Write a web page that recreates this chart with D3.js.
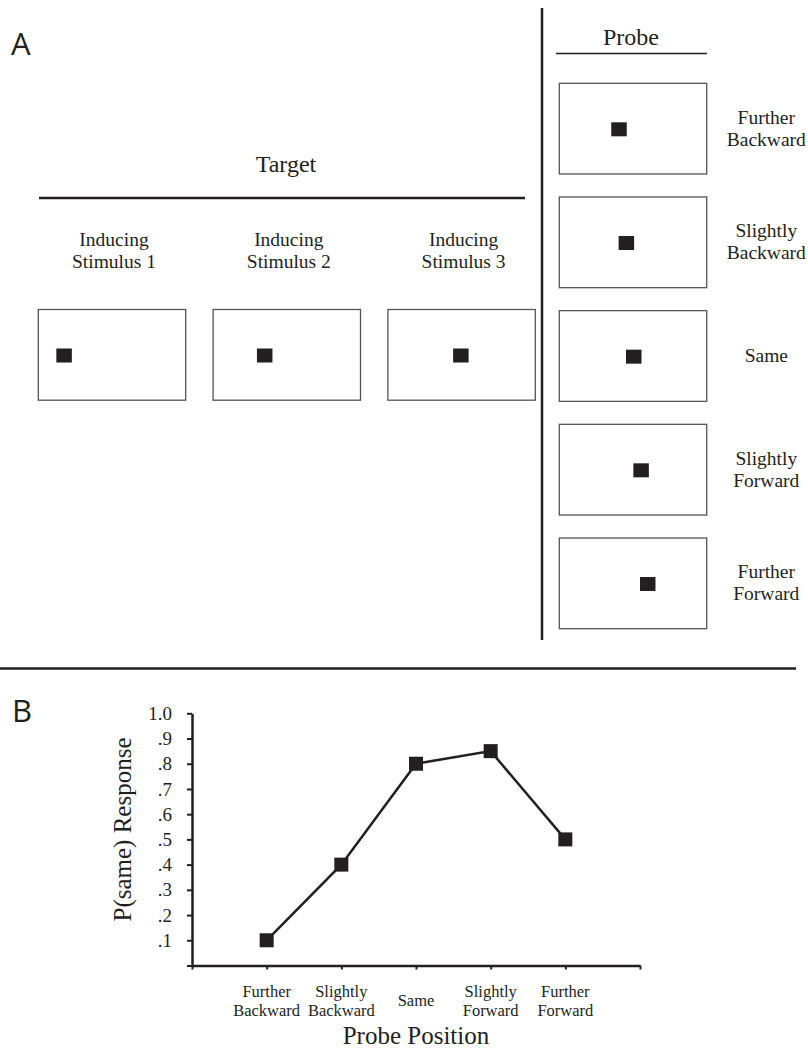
<!DOCTYPE html>
<html>
<head>
<meta charset="utf-8">
<script src="https://cdn.jsdelivr.net/npm/d3@7"></script>
<style>
  body { margin: 0; background: #fff; }
  svg { display: block; }
  text { fill: #231f20; font-family: "Liberation Serif", "Times New Roman", serif; }
  .panel { font-family: "Open Sans", sans-serif; }
</style>
</head>
<body>
<div id="chart"></div>
<script>
// target displays (inducing stimuli) and where the square sits, % of display width
var targetNames = ["Inducing Stimulus 1", "Inducing Stimulus 2", "Inducing Stimulus 3"];
var targetPos = [17.5, 35, 49.5];

// probe displays
var probeNames = ["Further Backward", "Slightly Backward", "Same", "Slightly Forward", "Further Forward"];
var probePos = [40.5, 45.5, 50.5, 55.5, 60];

// panel B: probability of a "same" response per probe position
var pSame = [0.10, 0.40, 0.80, 0.85, 0.50];
var yTicks = [0, 0.1, 0.2, 0.3, 0.4, 0.5, 0.6, 0.7, 0.8, 0.9, 1.0];
var yTickLabels = ["", ".1", ".2", ".3", ".4", ".5", ".6", ".7", ".8", ".9", "1.0"];

var ink = "#231f20";
var W = 808, H = 1055;

var svg = d3.select("#chart").append("svg")
    .attr("width", W)
    .attr("height", H);

// ---------- panel A ----------
svg.append("text").attr("class", "panel")
    .attr("x", 11).attr("y", 55)
    .style("font-size", "31px")
    .text("A");

// divider between target and probe
svg.append("line")
    .attr("x1", 542).attr("x2", 542).attr("y1", 8).attr("y2", 640)
    .style("stroke", ink).style("stroke-width", 2.5);

var boxW = 147.4, boxH = 90.7, sqW = 15.5, sqH = 14;
var inBox = d3.scaleLinear().domain([0, 100]).range([0, boxW]);

// target header
svg.append("text")
    .attr("x", 286).attr("y", 172)
    .attr("text-anchor", "middle")
    .style("font-size", "24px")
    .text("Target");
svg.append("line")
    .attr("x1", 39).attr("x2", 525).attr("y1", 198).attr("y2", 198)
    .style("stroke", ink).style("stroke-width", 2.5);

var tx = d3.scaleLinear().domain([0, 2]).range([38.3, 387.9]);
var tTop = 309.5;

var tg = svg.selectAll(".target")
    .data(targetPos)
    .enter().append("g")
    .attr("class", "target")
    .attr("transform", function (d, i) { return "translate(" + tx(i) + "," + tTop + ")"; });

tg.append("rect")
    .attr("width", boxW).attr("height", boxH)
    .style("fill", "none").style("stroke", "#555").style("stroke-width", 1.3);

tg.append("rect")
    .attr("x", function (d) { return inBox(d) - sqW / 2; })
    .attr("y", 46 - sqH / 2)
    .attr("width", sqW).attr("height", sqH)
    .style("fill", ink);

var tLab = tg.append("text")
    .attr("text-anchor", "middle")
    .style("font-size", "19.5px");
tLab.selectAll("tspan")
    .data(function (d, i) {
        var s = targetNames[i];
        var k = s.indexOf(" ");
        return [s.slice(0, k), s.slice(k + 1)];
    })
    .enter().append("tspan")
    .attr("x", boxW / 2 + 2)
    .attr("y", function (d, j) { return j == 0 ? -63.5 : -41.5; })
    .text(function (d) { return d; });

// probe header
svg.append("text")
    .attr("x", 631).attr("y", 45)
    .attr("text-anchor", "middle")
    .style("font-size", "24px")
    .text("Probe");
svg.append("line")
    .attr("x1", 556).attr("x2", 707).attr("y1", 53.5).attr("y2", 53.5)
    .style("stroke", ink).style("stroke-width", 1.4);

var py = d3.scaleLinear().domain([0, 4]).range([83.3, 538]);
var pLeft = 559.3;

var pg = svg.selectAll(".probe")
    .data(probePos)
    .enter().append("g")
    .attr("class", "probe")
    .attr("transform", function (d, i) { return "translate(" + pLeft + "," + py(i) + ")"; });

pg.append("rect")
    .attr("width", boxW).attr("height", boxH)
    .style("fill", "none").style("stroke", "#555").style("stroke-width", 1.3);

pg.append("rect")
    .attr("x", function (d) { return inBox(d) - sqW / 2; })
    .attr("y", 46 - sqH / 2)
    .attr("width", sqW).attr("height", sqH)
    .style("fill", ink);

var pLab = pg.append("text")
    .attr("text-anchor", "middle")
    .style("font-size", "19.5px");
pLab.selectAll("tspan")
    .data(function (d, i) { return probeNames[i].split(" "); })
    .enter().append("tspan")
    .attr("x", 207)
    .attr("y", function (d, j, nodes) {
        if (nodes.length == 1) return boxH / 2 + 6;
        return j == 0 ? boxH / 2 - 5 : boxH / 2 + 17;
    })
    .text(function (d) { return d; });

// ---------- panel B ----------
svg.append("line")
    .attr("x1", 0).attr("x2", 796).attr("y1", 668.5).attr("y2", 668.5)
    .style("stroke", ink).style("stroke-width", 2.5);

svg.append("text").attr("class", "panel")
    .attr("x", 12).attr("y", 722)
    .style("font-size", "31px")
    .text("B");

var x = d3.scaleLinear().domain([0, 6]).range([192, 640]);
var y = d3.scaleLinear().domain([0, 1]).range([965.5, 713.3]);

var gy = svg.append("g")
    .attr("transform", "translate(" + x(0) + ",0)")
    .call(d3.axisLeft(y)
        .tickValues(yTicks)
        .tickSize(5)
        .tickSizeOuter(0)
        .tickPadding(15)
        .tickFormat(function (d, i) { return yTickLabels[i]; }));

var gx = svg.append("g")
    .attr("transform", "translate(0," + y(0) + ")")
    .call(d3.axisBottom(x)
        .tickValues(d3.range(0, 7))
        .tickSize(4)
        .tickSizeOuter(0)
        .tickFormat(""));

[gx, gy].forEach(function (g) {
    g.select(".domain").style("stroke", ink).style("stroke-width", 2.5);
    g.selectAll(".tick line").style("stroke", ink).style("stroke-width", 2);
    g.selectAll(".tick text")
        .style("fill", ink)
        .style("font-family", "'Liberation Serif', serif")
        .style("font-size", "19px");
});

// category labels under the x axis
var cat = svg.selectAll(".cat")
    .data(probeNames)
    .enter().append("text")
    .attr("class", "cat")
    .attr("text-anchor", "middle")
    .style("font-size", "16.5px");
cat.selectAll("tspan")
    .data(function (d, i) { return d.split(" ").map(function (w) { return { w: w, i: i }; }); })
    .enter().append("tspan")
    .attr("x", function (d) { return x(d.i + 1); })
    .attr("y", function (d, j, nodes) {
        if (nodes.length == 1) return 1006;
        return j == 0 ? 997 : 1016;
    })
    .text(function (d) { return d.w; });

var line = d3.line()
    .x(function (d, i) { return x(i + 1); })
    .y(function (d) { return y(d); });

svg.append("path")
    .datum(pSame)
    .attr("d", line)
    .style("fill", "none")
    .style("stroke", ink)
    .style("stroke-width", 2.5);

var mk = 14;
svg.selectAll(".pt")
    .data(pSame)
    .enter().append("rect")
    .attr("class", "pt")
    .attr("x", function (d, i) { return x(i + 1) - mk / 2; })
    .attr("y", function (d) { return y(d) - mk / 2; })
    .attr("width", mk).attr("height", mk)
    .style("fill", ink);

// axis titles
svg.append("text")
    .attr("transform", "translate(131," + 829.5 + ") rotate(-90)")
    .attr("text-anchor", "middle")
    .style("font-size", "25px")
    .text("P(same) Response");

svg.append("text")
    .attr("x", x(3)).attr("y", 1044)
    .attr("text-anchor", "middle")
    .style("font-size", "25px")
    .text("Probe Position");
</script>
</body>
</html>
